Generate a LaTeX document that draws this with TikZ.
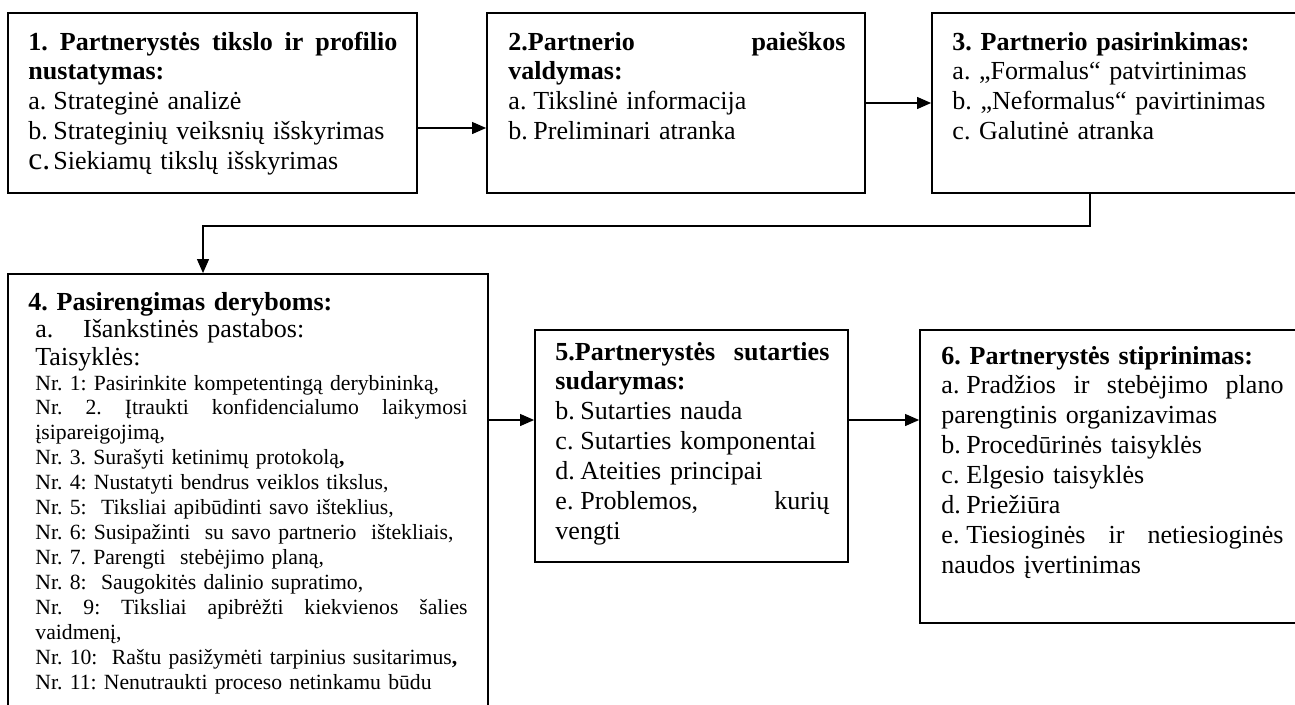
\documentclass[tikz,border=0pt]{standalone}
\usepackage{fontspec}
\setmainfont{Liberation Serif}
\usetikzlibrary{arrows.meta,fit}
\frenchspacing

\tikzset{
  frame/.style={draw=black, line width=0.8pt, inner sep=0pt},
  txt/.style={inner sep=0pt, anchor=base west, align=left,
              font=\fontsize{12}{13.8}\selectfont},
  rules/.style={inner sep=0pt, anchor=base west, align=left,
              font=\fontsize{10}{11.5}\selectfont},
  link/.style={draw=black, line width=0.7pt,
               -{Triangle[length=6.5pt,width=5.5pt]}},
}
\newcommand{\itemlbl}[1]{\makebox[11.5pt][l]{#1}}

\begin{document}
\begin{tikzpicture}[x=0.4610pt, y=-0.4610pt]
\useasboundingbox (0,0) rectangle (1295,704);
\clip (0,0) rectangle (1295,704);

% frames
\coordinate (b1nw) at (8,13);    \coordinate (b1se) at (417,193);
\coordinate (b2nw) at (487,13);  \coordinate (b2se) at (865,193);
\coordinate (b3nw) at (932,13);  \coordinate (b3se) at (1310,193);
\coordinate (b4nw) at (8,274);   \coordinate (b4se) at (488,720);
\coordinate (b5nw) at (535,330); \coordinate (b5se) at (848,562);
\coordinate (b6nw) at (920,330); \coordinate (b6se) at (1310,623);
\node[frame, fit=(b1nw)(b1se)] (b1) {};
\node[frame, fit=(b2nw)(b2se)] (b2) {};
\node[frame, fit=(b3nw)(b3se)] (b3) {};
\node[frame, fit=(b4nw)(b4se)] (b4) {};
\node[frame, fit=(b5nw)(b5se)] (b5) {};
\node[frame, fit=(b6nw)(b6se)] (b6) {};

% 1
\node[txt, text width=170.1pt] (t1) at (28,50) {%
\textbf{1.\hfill Partnerystės\hfill tikslo\hfill ir\hfill profilio}\\
\textbf{nustatymas:}\\
\itemlbl{a.}Strateginė analizė\\
\itemlbl{b.}Strateginių veiksnių išskyrimas\\
\itemlbl{\fontsize{14.5}{14.5}\selectfont c.}Siekiamų tikslų išskyrimas};

% 2
\node[txt, text width=155.4pt] (t2) at (508,50) {%
\textbf{2.Partnerio\hfill paieškos}\\
\textbf{valdymas:}\\
\itemlbl{a.}Tikslinė informacija\\
\itemlbl{b.}Preliminari atranka};

% 3
\node[txt, text width=160pt] (t3) at (952,50) {%
\textbf{3. Partnerio pasirinkimas:}\\
a. „Formalus“ patvirtinimas\\
b. „Neformalus“ pavirtinimas\\
c. Galutinė atranka};

% 4
\node[txt, text width=202.4pt, font=\fontsize{12}{12.7}\selectfont] (t4) at (28,310) {%
\textbf{4. Pasirengimas deryboms:}\\
\hspace{3.2pt}\makebox[22pt][l]{a.}Išankstinės pastabos:\\
\hspace{3.2pt}Taisyklės:};
\node[rules, text width=199.2pt] (t4r) at (35,390) {%
Nr. 1: Pasirinkite kompetentingą derybininką,\\
Nr.\hfill 2.\hfill Įtraukti\hfill konfidencialumo\hfill laikymosi\\
įsipareigojimą,\\
Nr. 3. Surašyti ketinimų protokolą\textbf{,}\\
Nr. 4: Nustatyti bendrus veiklos tikslus,\\
Nr. 5:\ \ Tiksliai apibūdinti savo išteklius,\\
Nr. 6: Susipažinti\ \ su savo partnerio\ \ ištekliais,\\
Nr. 7. Parengti\ \ stebėjimo planą,\\
Nr. 8:\ \ Saugokitės dalinio supratimo,\\
Nr.\hfill 9:\hfill Tiksliai\hfill apibrėžti\hfill kiekvienos\hfill šalies\\
vaidmenį,\\
Nr. 10:\ \ Raštu pasižymėti tarpinius susitarimus\textbf{,}\\
Nr. 11: Nenutraukti proceso netinkamu būdu};

% 5
\node[txt, text width=126.3pt] (t5) at (555,360) {%
\textbf{5.Partnerystės\hfill sutarties}\\
\textbf{sudarymas:}\\
\itemlbl{b.}Sutarties nauda\\
\itemlbl{c.}Sutarties komponentai\\
\itemlbl{d.}Ateities principai\\
\itemlbl{e.}Problemos,\hfill kurių\\
vengti};

% 6
\node[txt, text width=157.7pt] (t6) at (941,364) {%
\textbf{6. Partnerystės stiprinimas:}\\
\itemlbl{a.}Pradžios\hfill ir\hfill stebėjimo\hfill plano\\
parengtinis organizavimas\\
\itemlbl{b.}Procedūrinės taisyklės\\
\itemlbl{c.}Elgesio taisyklės\\
\itemlbl{d.}Priežiūra\\
\itemlbl{e.}Tiesioginės\hfill ir\hfill netiesioginės\\
naudos įvertinimas};

% connectors
\coordinate (y12) at (0,128);
\coordinate (y23) at (0,103);
\coordinate (y45) at (0,420);
\coordinate (turnA) at (1090,226);
\coordinate (turnB) at (203,226);
\draw[link] (b1.east |- y12) -- (b2.west |- y12);
\draw[link] (b2.east |- y23) -- (b3.west |- y23);
\draw[link] (b3.south -| turnA) -- (turnA) -- (turnB) -- (b4.north -| turnB);
\draw[link] (b4.east |- y45) -- (b5.west |- y45);
\draw[link] (b5.east |- y45) -- (b6.west |- y45);
\end{tikzpicture}
\end{document}
